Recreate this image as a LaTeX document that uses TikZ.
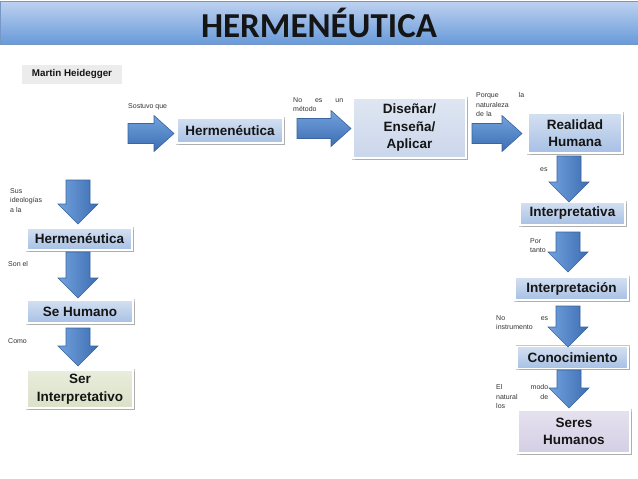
\documentclass[tikz,border=0pt]{standalone}
\usepackage{fontspec}
\setmainfont{Liberation Sans}
\newfontfamily\titlefont{Carlito}
\usetikzlibrary{shadows}
\definecolor{boxtop}{HTML}{D4E0F1}
\definecolor{boxbot}{HTML}{A7C0E4}
\definecolor{arrlight}{HTML}{72A2DE}
\definecolor{arrdark}{HTML}{3C6DB1}
\definecolor{arredge}{HTML}{3A659E}
\definecolor{txt}{HTML}{151515}
\definecolor{lbl}{HTML}{333333}
\definecolor{titletop}{HTML}{BED2F0}
\definecolor{titlebot}{HTML}{689ADA}
\definecolor{titleedge}{HTML}{7896C3}
\definecolor{disfill}{HTML}{CAD6EA}
\definecolor{shfill}{HTML}{D4CEE4}
\definecolor{sifill}{HTML}{DAE1C6}
\definecolor{mhfill}{HTML}{ECECEC}
\tikzset{
  bbox/.style={rectangle, draw=white, line width=1.4pt, inner sep=0pt,
    top color=boxtop, bottom color=boxbot, text=txt,
    font=\fontsize{13.5}{17.5}\selectfont\bfseries, align=center,
    preaction={draw=black!22, line width=3pt},
    drop shadow={shadow xshift=1.5pt, shadow yshift=-1.5pt, opacity=0.35}},
  graybox/.style={bbox, top color=#1!60!white, bottom color=#1},
  lbl/.style={inner sep=0pt, text=lbl, font=\fontsize{7}{9.8}\selectfont, align=left, anchor=north west},
  harrow/.style={draw=arredge, line width=0.6pt, top color=arrlight, bottom color=arrdark},
  varrow/.style={draw=arredge, line width=0.6pt, left color=arrlight, right color=arrdark},
  pics/rarr/.style={code={\path[harrow] (0,-10) -- ({#1-20},-10) -- ({#1-20},-18) -- (#1,0) -- ({#1-20},18) -- ({#1-20},10) -- (0,10) -- cycle;}},
  pics/darr/.style={code={\path[varrow] (-12,0) -- (-12,{#1-20}) -- (-20,{#1-20}) -- (0,#1) -- (20,{#1-20}) -- (12,{#1-20}) -- (12,0) -- cycle;}}
}
\begin{document}
\begin{tikzpicture}[x=1pt,y=-1pt]
\useasboundingbox (0,0) rectangle (638,479);
\fill[white] (0,0) rectangle (638,479);
% title bar
\node[rectangle, minimum width=638pt, minimum height=43pt, inner sep=0pt,
  top color=titletop, bottom color=titlebot, draw=titleedge, line width=0.6pt,
  font=\titlefont\fontsize{35}{40}\selectfont\bfseries, text=txt] (title) at (319,22.5) {HERMENÉUTICA};

\node[rectangle, fill=mhfill, minimum width=100pt, minimum height=19pt, inner sep=0pt,
  font=\fontsize{9.8}{12}\selectfont\bfseries, text=txt] (mh) at (72,74) {Martin Heidegger};

% top row
\node[bbox, minimum width=106pt, minimum height=25pt] (h1) at (230,130.5) {Hermenéutica};
\node[graybox=disfill, minimum width=113pt, minimum height=60pt] (dis) at (409.5,128) {Diseñar/\\Enseña/\\Aplicar};
\node[bbox, minimum width=94pt, minimum height=40pt] (rh) at (575,133) {Realidad\\Humana};

% right column
\node[bbox, minimum width=105pt, minimum height=23pt] (ia) at (572.5,213.5) {Interpretativa};
\node[bbox, minimum width=113pt, minimum height=23pt] (io) at (571.5,288.5) {Interpretación};
\node[bbox, minimum width=111pt, minimum height=22pt] (co) at (572.5,357.5) {Conocimiento};
\node[graybox=shfill, minimum width=112pt, minimum height=43pt] (sh) at (574,431.5) {Seres\\Humanos};

% left column
\node[bbox, minimum width=105pt, minimum height=22pt] (h2) at (79.5,239) {Hermenéutica};
\node[bbox, minimum width=106pt, minimum height=23pt] (sem) at (80,311.5) {Se Humano};
\node[graybox=sifill, minimum width=106pt, minimum height=38pt] (si) at (80,389) {Ser\\Interpretativo};

% arrows
\pic (a1) at (128,133.5) {rarr=46};
\pic (a2) at (297,128.5) {rarr=54};
\pic (a3) at (472,133.5) {rarr=50};
\pic (b1) at (569,156) {darr=46};
\pic (b2) at (568,232) {darr=40};
\pic (b3) at (568,306) {darr=41};
\pic (b4) at (569,370) {darr=38};
\pic (c1) at (78,180) {darr=44};
\pic (c2) at (78,252) {darr=46};
\pic (c3) at (78,328) {darr=38};

% labels
\node[lbl] (l1) at (128,103) {Sostuvo que};
\node[lbl, text width=50pt] (l2) at (293,97) {No\hfill es\hfill un\\método};
\node[lbl, text width=48pt] (l3) at (476,92) {Porque\hfill la\\naturaleza\\de la};
\node[lbl] (l4) at (540,168) {es};
\node[lbl] (l5) at (530,238) {Por\\tanto};
\node[lbl, text width=52pt] (l6) at (496,315) {No\hfill es\\instrumento};
\node[lbl, text width=52pt] (l7) at (496,384) {El\hfill modo\\natural\hfill de\\los};
\node[lbl] (l8) at (10,188) {Sus\\ideologías\\a la};
\node[lbl] (l9) at (8,261) {Son el};
\node[lbl] (l10) at (8,338) {Como};
\end{tikzpicture}
\end{document}
